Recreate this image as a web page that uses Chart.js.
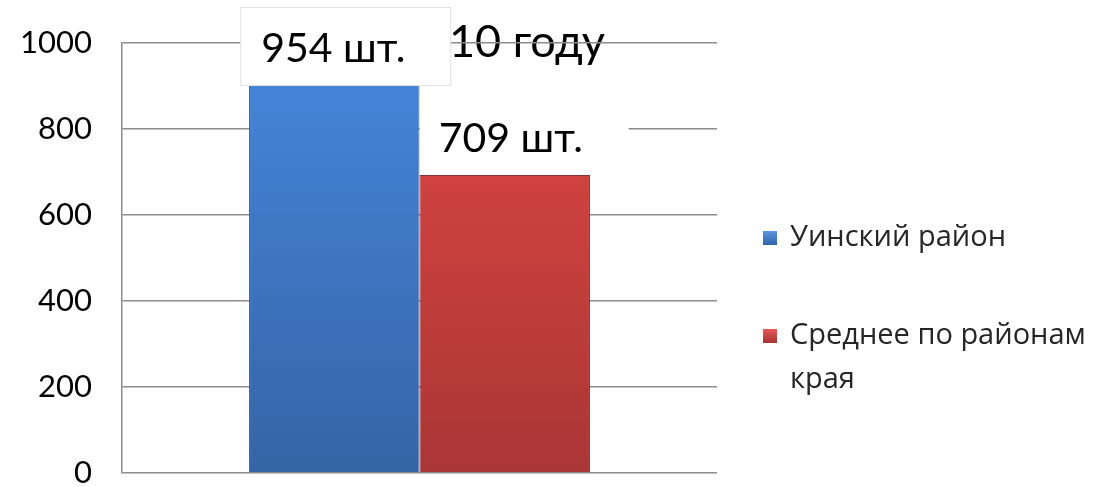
<!DOCTYPE html>
<html>
<head>
<meta charset="utf-8">
<script src="https://cdn.jsdelivr.net/npm/chart.js@4.4.1/dist/chart.umd.min.js"></script>
<style>
    html, body { margin: 0; padding: 0; background: #ffffff; }
    #wrap { position: relative; width: 1101px; height: 487px; }
</style>
</head>
<body>
<div id="wrap"><canvas id="chart" width="1101" height="487"></canvas></div>
<script>
'use strict';

// Chart data:
var categories = [''];
var seriesNames = ['Уинский район', 'Среднее по районам края'];
var uinskyValues = [954];
var averageValues = [693];
var valueLabels = ['954 шт.', '709 шт.'];
var titleText = '10 году';
var yMin = 0;
var yMax = 1000;
var yStep = 200;

var FONT = 'Lato, "Open Sans", sans-serif';

// Vertical gradient for a bar, from the chart area:
function barGradient(ctx, top, bottom) {
    var chart = ctx.chart;
    var area = chart.chartArea;
    if (!area) {
        return top;
    }
    var g = chart.ctx.createLinearGradient(0, area.top, 0, area.bottom);
    g.addColorStop(0, top);
    g.addColorStop(1, bottom);
    return g;
}

// Title text sits under the grid lines:
var titlePlugin = {
    id: 'titleUnderGrid',
    beforeDraw: function (chart) {
        var c = chart.ctx;
        c.save();
        c.fillStyle = '#000000';
        c.font = '45px ' + FONT;
        c.textBaseline = 'alphabetic';
        c.fillText(titleText, 449, 57);
        c.restore();
    }
};

// White boxes with the value labels:
var boxPlugin = {
    id: 'valueBoxes',
    afterDatasetsDraw: function (chart) {
        var c = chart.ctx;
        var blue = chart.getDatasetMeta(0).data[0];
        var red = chart.getDatasetMeta(1).data[0];
        var boxes = [
            { x: blue.x - 94, y: 7, w: 210, h: 78, text: valueLabels[0], tx: blue.x - 73, ty: 62 },
            { x: red.x - 85, y: red.y - 78, w: 209, h: 78, text: valueLabels[1], tx: red.x - 66, ty: red.y - 23 }
        ];
        c.save();
        boxes.forEach(function (b) {
            c.fillStyle = '#ffffff';
            c.fillRect(b.x, b.y, b.w, b.h);
            c.fillStyle = '#000000';
            c.font = '41px ' + FONT;
            c.fillText(b.text, b.tx, b.ty);
        });
        // thin outline on the first box only
        c.strokeStyle = '#e2e2e2';
        c.lineWidth = 1;
        c.strokeRect(boxes[0].x + 0.5, boxes[0].y + 0.5, boxes[0].w, boxes[0].h);
        c.restore();
    }
};

// Legend on the right, with wrapped second entry:
var legendPlugin = {
    id: 'sideLegend',
    afterDraw: function (chart) {
        var c = chart.ctx;
        var colors = [['#5b95e0', '#2f62a8'], ['#e85a56', '#a83232']];
        var rows = [
            { lines: ['Уинский район'], y: 238 },
            { lines: ['Среднее по районам', 'края'], y: 336 }
        ];
        c.save();
        c.font = '29px "Open Sans", sans-serif';
        c.textBaseline = 'middle';
        rows.forEach(function (r, i) {
            var g = c.createLinearGradient(0, r.y - 7, 0, r.y + 7);
            g.addColorStop(0, colors[i][0]);
            g.addColorStop(1, colors[i][1]);
            c.fillStyle = g;
            c.fillRect(763, r.y - 7, 14, 14);
            c.fillStyle = '#262626';
            r.lines.forEach(function (line, k) {
                c.fillText(line, 790, r.y + k * 44);
            });
        });
        c.restore();
    }
};

var ctx = document.getElementById('chart').getContext('2d');
var chart = new Chart(ctx, {
    type: 'bar',
    data: {
        labels: categories,
        datasets: [{
            label: seriesNames[0],
            data: uinskyValues,
            backgroundColor: function (context) {
                return barGradient(context, '#4687dc', '#3564a6');
            },
            borderColor: '#3a5f95',
            borderWidth: 1,
            categoryPercentage: 0.573,
            barPercentage: 1
        }, {
            label: seriesNames[1],
            data: averageValues,
            backgroundColor: function (context) {
                return barGradient(context, '#e04744', '#a93635');
            },
            borderColor: '#8a3030',
            borderWidth: 1,
            categoryPercentage: 0.573,
            barPercentage: 1
        }]
    },
    options: {
        responsive: false,
        animation: false,
        layout: {
            padding: { left: 0, right: 384, top: 43, bottom: 14 }
        },
        plugins: {
            legend: { display: false },
            tooltip: { enabled: false }
        },
        scales: {
            x: {
                display: false
            },
            y: {
                min: yMin,
                max: yMax,
                ticks: {
                    stepSize: yStep,
                    padding: 30,
                    color: '#000000',
                    font: { family: FONT, size: 31 },
                    callback: function (value) {
                        return String(value);
                    }
                },
                grid: {
                    color: '#8c8c8c',
                    lineWidth: 1.5,
                    drawTicks: false
                },
                border: {
                    display: true,
                    color: '#8c8c8c',
                    width: 1.5
                },
                afterFit: function (scale) {
                    // tick padding would otherwise push the area in vertically too
                    scale.width = 122;
                    scale.paddingTop = 0;
                    scale.paddingBottom = 0;
                }
            }
        }
    },
    plugins: [titlePlugin, boxPlugin, legendPlugin]
});
</script>
</body>
</html>
